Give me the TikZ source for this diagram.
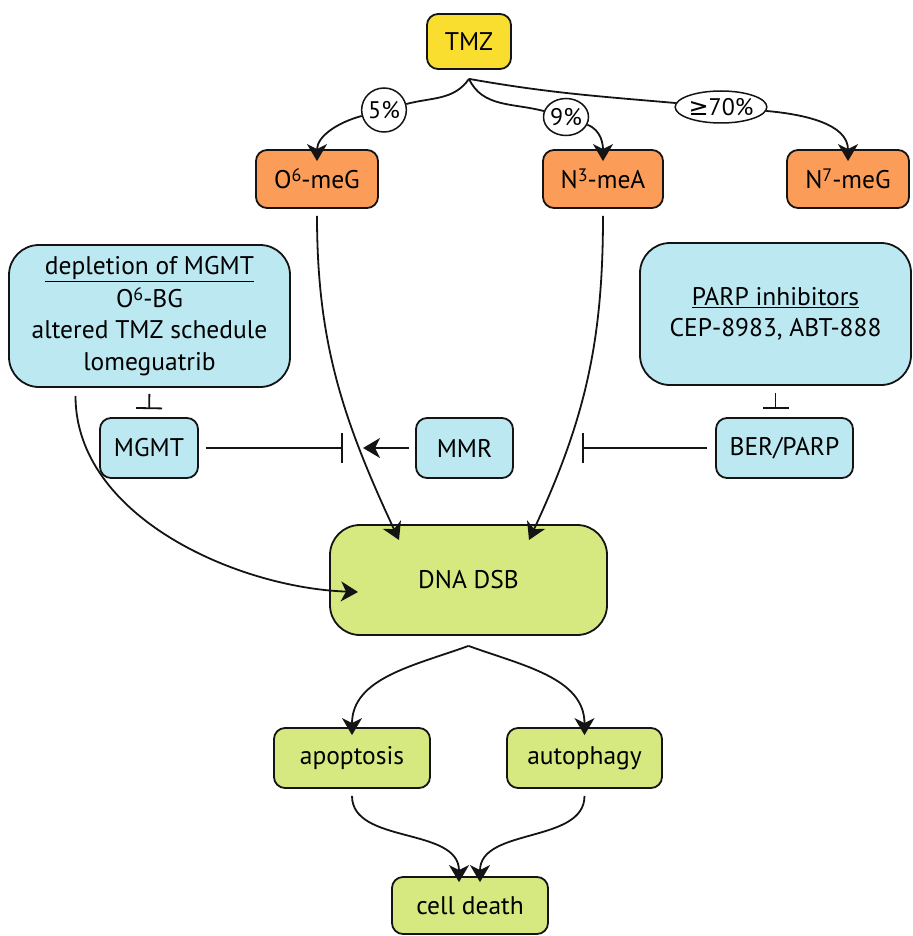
\documentclass[tikz,border=0pt]{standalone}
\usepackage{fontspec}
\setmainfont{PT Sans}
\newfontfamily\geqfont{DejaVu Sans}
\usetikzlibrary{arrows.meta,positioning,calc,shapes.geometric}
\definecolor{inkBlack}{RGB}{20, 20, 20}
\definecolor{drugYellow}{RGB}{249, 221, 47}
\definecolor{adductOrange}{RGB}{251, 157, 89}
\definecolor{repairBlue}{RGB}{187, 232, 241}
\definecolor{fateGreen}{RGB}{214, 233, 128}
\newcommand{\upnum}[1]{\raisebox{0.55ex}{\fontsize{18pt}{18pt}\selectfont #1}}
\tikzset{
  box/.style={draw=inkBlack, line width=1.8pt, rounded corners=11pt, align=center,
    inner sep=0pt, font=\fontsize{25.5pt}{31.5pt}\selectfont},
  bigbox/.style={box, rounded corners=30pt},
  pct/.style={ellipse, draw=inkBlack, line width=1.5pt, fill=white, inner sep=0pt,
    font=\fontsize{24pt}{26pt}\selectfont},
  link/.style={draw=inkBlack, line width=1.8pt},
  flow/.style={link, -{Stealth[length=17pt, width=20pt, inset=5pt]}},
  inhibit/.style={link, -{Bar[width=26pt, line width=1.8pt]}}
}

\begin{document}
\begin{tikzpicture}[x=1pt, y=-1pt]
  \useasboundingbox (0,0) rectangle (912,936);

  % drug and adducts
  \node[box, fill=drugYellow, minimum width=84pt, minimum height=55pt] (tmz) at (469,41.5) {TMZ};
  \node[box, fill=adductOrange, minimum width=122pt, minimum height=58pt] (o6meg) at (317,179) {O\upnum{6}-meG};
  \node[box, fill=adductOrange, minimum width=120pt, minimum height=58pt] (n3mea) at (603,179) {N\upnum{3}-meA};
  \node[box, fill=adductOrange, minimum width=122pt, minimum height=58pt] (n7meg) at (848,179) {N\upnum{7}-meG};

  \node[pct, minimum width=44pt, minimum height=44pt] (p5) at (384,110) {5\%};
  \node[pct, minimum width=45pt, minimum height=37pt] (p9) at (566,117) {9\%};
  \node[pct, minimum width=82pt, minimum height=32pt] (p70) at (721,107) {{\geqfont ≥}70\%};

  \coordinate (tmzfork) at ([yshift=-9pt]tmz.south);
  \draw[flow] (tmzfork) to[out=235, in=15] (p5) to[out=195, in=90] ([yshift=-12pt]o6meg.north);
  \draw[flow] (tmzfork) to[out=-65, in=165] (p9) to[out=-20, in=90] ([yshift=-12pt]n3mea.north);
  \draw[flow] (tmzfork) to[out=-10, in=175] (p70) to[out=-5, in=90] ([yshift=-12pt]n7meg.north);

  % repair and its modulators
  \node[bigbox, fill=repairBlue, minimum width=281pt, minimum height=142pt] (depl) at (149.5,316)
    {\underline{depletion of MGMT}\\[1pt] O\upnum{6}-BG\\ altered TMZ schedule\\ lomeguatrib};
  \node[bigbox, fill=repairBlue, minimum width=271pt, minimum height=142pt] (parp) at (775.5,314)
    {\underline{PARP inhibitors}\\ CEP-8983, ABT-888};
  \node[box, fill=repairBlue, minimum width=98pt, minimum height=60pt] (mgmt) at (149,448) {MGMT};
  \node[box, fill=repairBlue, minimum width=97pt, minimum height=60pt] (mmr) at (464.5,448) {MMR};
  \node[box, fill=repairBlue, minimum width=137pt, minimum height=60pt] (berparp) at (784.5,448) {BER/PARP};

  \draw[inhibit, shorten <=6pt, shorten >=8pt] (depl.south) -- (mgmt.north);
  \draw[inhibit, shorten <=7pt, shorten >=8pt] (parp.south) -- (parp.south |- berparp.north);

  \coordinate (mgmtstop) at (343,448);
  \coordinate (mmrtip) at (363,448);
  \coordinate (berstop) at (582,448);
  \draw[link, -{Bar[width=30pt, line width=1.8pt]}, shorten <=7pt] (mgmt.east) -- (mgmtstop);
  \draw[flow, shorten <=6pt] (mmr.west) -- (mmrtip);
  \draw[link, -{Bar[width=30pt, line width=1.8pt]}, shorten <=8pt] (berparp.west) -- (berstop);

  % damage and outcome
  \node[bigbox, fill=fateGreen, minimum width=277pt, minimum height=110pt] (dsb) at (468.5,580) {DNA DSB};
  \node[box, fill=fateGreen, minimum width=156pt, minimum height=60pt] (apop) at (352,758) {apoptosis};
  \node[box, fill=fateGreen, minimum width=155pt, minimum height=60pt] (autoph) at (584.5,758) {autophagy};
  \node[box, fill=fateGreen, minimum width=156pt, minimum height=57pt] (death) at (470,905.5) {cell death};

  \coordinate (deplout) at ([xshift=-74pt, yshift=-8pt]depl.south);
  \coordinate (o6in) at (399,540);
  \coordinate (n3in) at (529,540);
  \coordinate (deplin) at (358,592);
  \draw[flow, shorten <=7pt] (o6meg.south) to[out=-90, in=115] (o6in);
  \draw[flow, shorten <=7pt] (n3mea.south) to[out=-90, in=65] (n3in);
  \draw[flow] (deplout) to[out=-90, in=178, looseness=0.9] (deplin);

  \coordinate (dsbfork) at ([yshift=-10pt]dsb.south);
  \draw[flow] (dsbfork) to[out=200, in=90] ([yshift=-8pt]apop.north);
  \draw[flow] (dsbfork) to[out=-20, in=90] ([yshift=-8pt]autoph.north);
  \draw[flow, shorten <=7pt] (apop.south) to[out=-90, in=90] ([xshift=-11pt, yshift=-6pt]death.north);
  \draw[flow, shorten <=7pt] (autoph.south) to[out=-90, in=90] ([xshift=10pt, yshift=-6pt]death.north);
\end{tikzpicture}
\end{document}
